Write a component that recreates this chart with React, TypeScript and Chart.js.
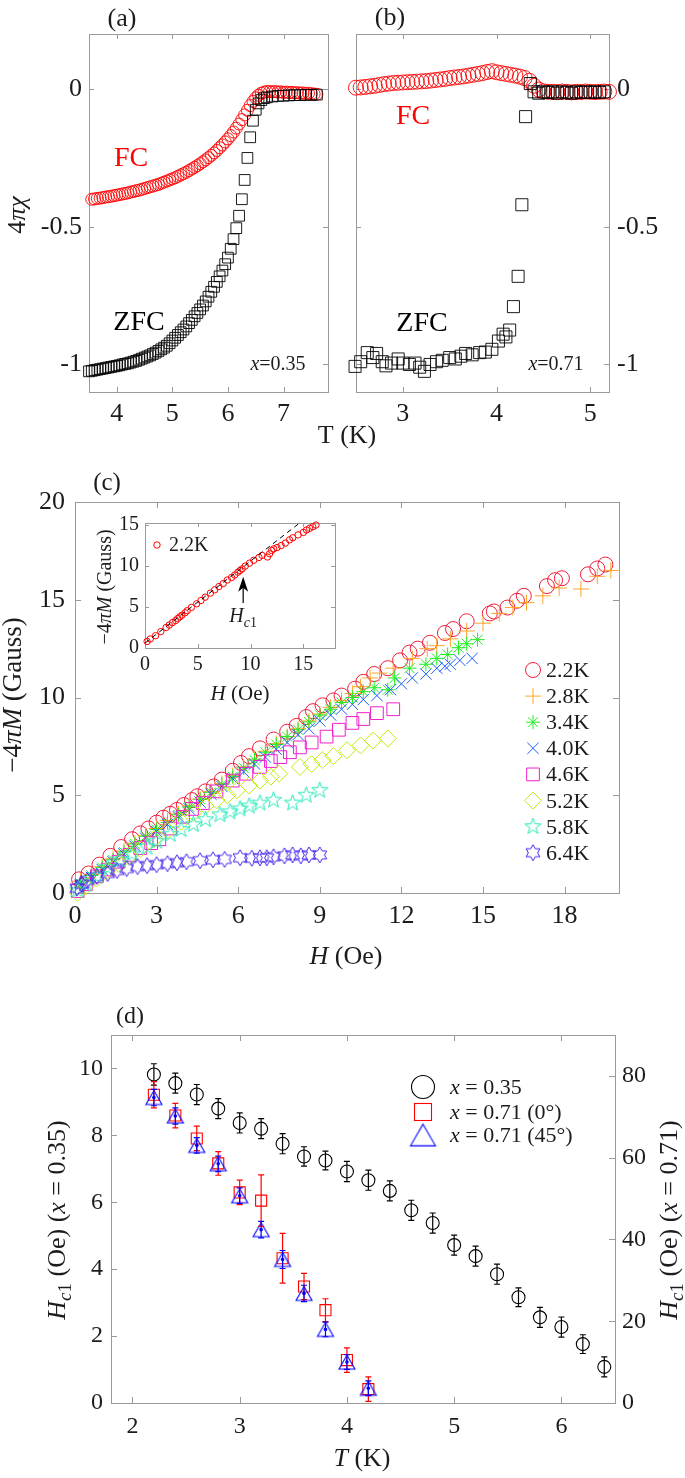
import React, { useEffect, useRef } from 'react';
import { Chart, registerables } from 'chart.js';
import { drawPoint } from 'chart.js/helpers';

Chart.register(...registerables);

const PAGE_W = 685;
const PAGE_H = 1478;
const FONT = '"Liberation Serif", "DejaVu Serif", serif';
const TXT = '#1c1c1c';
const FRAME = '#9a9a9a';
Chart.defaults.font.family = FONT;

// ---------------- (a) x = 0.35 ----------------
const A_FC_T = [3.55,3.60,3.65,3.70,3.75,3.80,3.85,3.90,3.95,4.00,
  4.05,4.10,4.15,4.20,4.25,4.30,4.35,4.40,4.45,4.50,
  4.55,4.60,4.65,4.70,4.75,4.80,4.85,4.90,4.95,5.00,
  5.05,5.10,5.15,5.20,5.25,5.30,5.35,5.40,5.45,5.50,
  5.55,5.60,5.65,5.70,5.75,5.80,5.85,5.90,5.95,6.00,
  6.05,6.10,6.15,6.20,6.25,6.30,6.35,6.40,6.45,6.50,
  6.55,6.60,6.65,6.70,6.75,6.80,6.85,6.90,6.95,7.00,
  7.05,7.10,7.15,7.20,7.25,7.30,7.35,7.40,7.45,7.50,
  7.55,7.60];
const A_FC_CHI = [-0.400,-0.399,-0.397,-0.396,-0.394,-0.392,-0.391,-0.389,-0.387,-0.385,
  -0.383,-0.381,-0.379,-0.377,-0.374,-0.372,-0.369,-0.367,-0.364,-0.361,
  -0.358,-0.355,-0.352,-0.349,-0.346,-0.342,-0.338,-0.334,-0.330,-0.326,
  -0.322,-0.317,-0.312,-0.307,-0.302,-0.296,-0.290,-0.284,-0.278,-0.271,
  -0.264,-0.257,-0.249,-0.241,-0.232,-0.223,-0.213,-0.203,-0.192,-0.181,
  -0.169,-0.156,-0.142,-0.127,-0.111,-0.094,-0.077,-0.060,-0.045,-0.032,
  -0.022,-0.015,-0.011,-0.009,-0.009,-0.010,-0.009,-0.011,-0.010,-0.012,
  -0.011,-0.013,-0.012,-0.014,-0.013,-0.015,-0.014,-0.016,-0.015,-0.017,
  -0.018,-0.019];
const A_ZFC_T = [3.50,3.55,3.60,3.65,3.70,3.75,3.80,3.85,3.90,3.95,
  4.00,4.05,4.10,4.15,4.20,4.25,4.30,4.35,4.40,4.45,
  4.50,4.55,4.60,4.65,4.70,4.75,4.80,4.85,4.90,4.95,
  5.00,5.05,5.10,5.15,5.20,5.25,5.30,5.35,5.40,5.45,
  5.50,5.55,5.60,5.65,5.70,5.75,5.80,5.85,5.90,5.95,
  6.00,6.05,6.10,6.15,6.20,6.25,6.30,6.35,6.40,6.45,
  6.50,6.55,6.60,6.65,6.70,
  6.80,6.90,7.00,7.10,7.20,7.30,7.40,7.50,7.60];
const A_ZFC_CHI = [-1.025,-1.023,-1.021,-1.019,-1.017,-1.015,-1.013,-1.011,-1.009,-1.007,
  -1.005,-1.003,-1.000,-0.998,-0.996,-0.993,-0.990,-0.987,-0.983,-0.979,
  -0.975,-0.971,-0.967,-0.962,-0.957,-0.951,-0.945,-0.939,-0.932,-0.923,
  -0.913,-0.903,-0.893,-0.883,-0.873,-0.862,-0.850,-0.838,-0.825,-0.813,
  -0.800,-0.786,-0.771,-0.754,-0.736,-0.718,-0.700,-0.680,-0.659,-0.636,
  -0.612,-0.580,-0.545,-0.505,-0.460,-0.400,-0.330,-0.250,-0.175,-0.115,
  -0.075,-0.052,-0.040,-0.033,-0.030,
  -0.027,-0.025,-0.024,-0.023,-0.022,-0.022,-0.021,-0.021,-0.020];
const A_X_TICKS = [4, 5, 6, 7];
const A_X_LABELS = ['4', '5', '6', '7'];
const AB_Y_TICKS = [-1, -0.5, 0];
const AB_Y_LABELS = ['-1', '-0.5', '0'];

// ---------------- (b) x = 0.71 ----------------
const B_FC_T = [2.50,2.55,2.60,2.65,2.70,2.75,2.80,2.85,2.90,2.95,
  3.00,3.05,3.10,3.15,3.20,3.25,3.30,3.35,3.40,3.45,
  3.50,3.55,3.60,3.65,3.70,3.75,3.80,3.85,3.90,3.95,
  4.00,4.05,4.10,4.15,4.20,4.25,4.30,4.35,4.40,4.45,
  4.50,4.55,4.60,4.65,4.70,4.75,4.80,4.85,4.90,4.95,
  5.00,5.05,5.10,5.15,5.20];
const B_FC_CHI = [0.005,0.006,0.008,0.010,0.012,0.015,0.018,0.020,0.022,0.023,
  0.024,0.025,0.026,0.027,0.028,0.029,0.031,0.033,0.035,0.037,
  0.040,0.042,0.044,0.046,0.049,0.052,0.055,0.058,0.062,0.065,
  0.061,0.058,0.055,0.052,0.049,0.045,0.040,0.030,0.012,-0.002,
  -0.008,-0.010,-0.010,-0.011,-0.009,-0.010,-0.012,-0.010,-0.011,-0.009,
  -0.010,-0.011,-0.010,-0.009,-0.010];
const B_ZFC = [[2.49,-1.007],[2.55,-0.99],[2.62,-0.957],[2.68,-0.975],[2.72,-0.96],[2.78,-0.99],
  [2.82,-1.005],[2.88,-0.995],[2.95,-0.98],[3.0,-0.995],[3.07,-1.0],[3.13,-0.995],[3.18,-1.01],
  [3.23,-1.025],[3.29,-1.0],[3.36,-0.99],[3.42,-0.985],[3.5,-0.975],[3.56,-0.98],[3.62,-0.97],
  [3.67,-0.96],[3.74,-0.965],[3.82,-0.957],[3.88,-0.955],[3.95,-0.945],[4.02,-0.915],[4.07,-0.89],
  [4.1,-0.9],[4.14,-0.875],[4.18,-0.79],[4.23,-0.68],[4.27,-0.42],[4.31,-0.1],[4.36,0.02],
  [4.4,-0.01],[4.45,-0.015],[4.5,-0.01],[4.55,-0.012],[4.6,-0.01],[4.65,-0.015],[4.7,-0.01],
  [4.75,-0.012],[4.8,-0.015],[4.85,-0.01],[4.9,-0.012],[4.95,-0.01],[5.0,-0.012],[5.05,-0.01],
  [5.1,-0.012],[5.15,-0.01]];
const B_X_TICKS = [3, 4, 5];
const B_X_LABELS = ['3', '4', '5'];

// ---------------- (c) -4piM vs H ----------------
const C_LABELS = ['2.2K', '2.8K', '3.4K', '4.0K', '4.6K', '5.2K', '5.8K', '6.4K'];
const C_22K = [[0.15,0.7],[0.5,1.0],[0.9,1.45],[1.3,1.9],[1.7,2.35],[2.1,2.75],[2.4,3.05],[2.7,3.3],
  [3.0,3.6],[3.25,3.85],[3.5,4.05],[3.75,4.25],[4.0,4.5],[4.3,4.75],[4.5,4.95],[4.8,5.2],[5.1,5.45],
  [5.4,5.8],[5.8,6.25],[6.1,6.65],[6.4,7.0],[6.8,7.4],[7.3,7.85],[7.8,8.25],[8.15,8.55],[8.5,9.0],
  [8.75,9.3],[9.1,9.6],[9.5,9.85],[9.8,10.1],[10.3,10.45],[10.6,10.8],[11.0,11.2],[11.5,11.5],
  [11.95,11.9],[12.3,12.3],[12.6,12.5],[13.05,12.8],[13.6,13.3],[13.9,13.5],[14.4,13.9],[15.25,14.3],
  [15.4,14.4],[15.9,14.6],[16.25,14.95],[16.5,15.2],[17.35,15.7],[17.65,16.0],[17.9,16.1],[18.86,16.3],
  [19.2,16.6],[19.5,16.8]];
const C_28K = [[0.2,0.6],[0.6,0.95],[1.0,1.35],[1.4,1.75],[1.8,2.15],[2.2,2.55],[2.6,2.95],[3.0,3.3],
  [3.4,3.7],[3.8,4.05],[4.2,4.45],[4.6,4.8],[5.0,5.2],[5.4,5.6],[5.8,6.0],[6.2,6.45],[6.6,6.85],
  [7.0,7.25],[7.4,7.65],[7.8,8.0],[8.2,8.4],[8.6,8.8],[9.0,9.15],[9.4,9.5],[9.8,9.85],[10.2,10.2],
  [10.5,10.55],[10.85,11.0],[11.2,11.25],[11.7,11.5],[12.4,12.0],[12.95,12.5],[13.3,12.65],[13.8,13.0],
  [14.4,13.4],[15.0,13.8],[15.6,14.3],[16.1,14.6],[16.6,14.85],[17.2,15.2],[17.8,15.6],[18.6,15.55],
  [19.2,16.2],[19.7,16.5]];
const C_34K = [[0.2,0.5],[0.6,0.9],[1.0,1.3],[1.4,1.7],[1.8,2.1],[2.2,2.5],[2.6,2.9],[3.0,3.25],
  [3.4,3.6],[3.8,4.0],[4.2,4.4],[4.6,4.8],[5.0,5.15],[5.4,5.55],[5.8,5.95],[6.2,6.4],[6.6,6.8],
  [7.0,7.2],[7.4,7.6],[7.8,8.0],[8.2,8.35],[8.6,8.75],[9.0,9.1],[9.4,9.4],[9.8,9.75],[10.2,10.0],
  [10.6,10.3],[11.0,10.5],[11.5,10.4],[11.75,11.0],[12.3,11.5],[12.9,11.7],[13.3,12.0],[13.7,12.2],
  [14.1,12.55],[14.4,12.75],[14.8,12.96]];
const C_40K = [[0.2,0.4],[0.6,0.8],[1.0,1.2],[1.4,1.6],[1.8,2.0],[2.2,2.4],[2.6,2.8],[3.0,3.15],
  [3.4,3.5],[3.8,3.9],[4.2,4.3],[4.6,4.65],[5.0,5.05],[5.4,5.45],[5.8,5.85],[6.2,6.2],[6.6,6.6],
  [7.0,6.95],[7.4,7.35],[7.8,7.7],[8.2,8.1],[8.6,8.4],[9.0,8.8],[9.4,9.1],[9.8,9.4],[10.2,9.65],
  [10.6,9.9],[11.1,10.1],[11.6,10.4],[12.0,10.7],[12.4,11.0],[12.9,11.2],[13.3,11.5],[13.6,11.6],
  [13.8,11.7],[14.15,11.9],[14.6,12.0]];
const C_46K = [[0.1,0.1],[0.4,0.45],[0.8,0.85],[1.2,1.2],[1.6,1.6],[2.0,1.95],[2.4,2.3],[2.8,2.55],
  [3.1,2.75],[3.5,3.3],[3.97,3.9],[4.3,4.3],[4.7,4.6],[5.2,5.2],[5.8,5.75],[6.3,6.1],[6.8,6.45],
  [7.2,6.75],[7.55,6.95],[7.9,7.2],[8.27,7.45],[8.7,7.7],[9.25,8.0],[9.7,8.35],[10.2,8.7],[10.6,8.9],
  [11.1,9.2],[11.7,9.4]];
const C_52K = [[0.1,0.0],[0.4,0.35],[0.8,0.75],[1.2,1.15],[1.6,1.5],[2.0,1.9],[2.4,2.25],[2.9,2.75],
  [3.4,3.2],[3.9,3.65],[4.35,4.1],[4.8,4.45],[5.2,4.75],[5.6,5.0],[5.95,5.25],[6.4,5.5],[6.8,5.75],
  [7.2,5.95],[7.5,6.1],[8.27,6.45],[8.7,6.6],[9.1,6.8],[9.5,7.0],[10.0,7.3],[10.5,7.55],[10.96,7.8],
  [11.5,7.9]];
const C_58K = [[0.1,0.15],[0.4,0.45],[0.8,0.85],[1.2,1.3],[1.65,1.7],[2.1,2.0],[2.65,2.35],[3.0,2.65],
  [3.5,3.0],[3.9,3.25],[4.35,3.5],[4.8,3.75],[5.33,4.0],[5.7,4.15],[6.07,4.3],[6.4,4.45],[6.8,4.6],
  [7.3,4.75],[8.0,4.6],[8.5,5.0],[9.0,5.25]];
const C_64K = [[0.07,0.25],[0.25,0.45],[0.45,0.65],[0.8,0.85],[1.2,1.0],[1.55,1.15],[1.9,1.25],
  [2.3,1.35],[2.65,1.4],[3.0,1.45],[3.4,1.5],[3.75,1.55],[4.1,1.6],[4.6,1.65],[5.07,1.7],[5.5,1.72],
  [6.07,1.8],[6.5,1.78],[6.8,1.8],[7.05,1.8],[7.3,1.85],[7.7,1.9],[8.0,1.95],[8.3,1.9],[8.6,1.95],
  [9.0,1.95]];
const C_X_TICKS = [0, 3, 6, 9, 12, 15, 18];
const C_X_LABELS = ['0', '3', '6', '9', '12', '15', '18'];
const C_Y_TICKS = [0, 5, 10, 15, 20];
const C_Y_LABELS = ['0', '5', '10', '15', '20'];

// inset of (c)
const INSET_22K = [[0.2,0.8],[0.5,1.1],[1.0,1.5],[1.5,2.0],[2.0,2.5],[2.3,2.8],[2.6,3.1],[2.9,3.35],
  [3.1,3.6],[3.3,3.8],[3.5,4.0],[3.8,4.3],[4.0,4.55],[4.4,4.95],[4.9,5.4],[5.3,5.8],[5.7,6.2],
  [6.2,6.7],[6.6,7.1],[7.0,7.5],[7.4,7.85],[7.8,8.3],[8.2,8.6],[8.5,8.9],[8.8,9.25],[9.0,9.45],
  [9.2,9.65],[9.5,10.0],[9.9,10.35],[10.3,10.7],[10.8,11.05],[11.1,11.3],[11.6,11.1],[11.8,11.5],
  [12.0,11.9],[12.2,12.1],[12.5,12.25],[12.9,12.5],[13.3,12.8],[13.7,13.2],[14.0,13.45],[14.5,13.8],
  [15.0,14.1],[15.3,14.4],[15.6,14.6],[15.9,14.8],[16.2,15.0]];
const INSET_FIT = [[0, 0.6], [14.6, 15.2]];
const INSET_ARROW = { h: 9.3, from: 5.5, to: 8.7, label: 3.9 };
const INSET_X_TICKS = [0, 5, 10, 15];
const INSET_X_LABELS = ['0', '5', '10', '15'];
const INSET_Y_TICKS = [0, 5, 10, 15];
const INSET_Y_LABELS = ['0', '5', '10', '15'];

// ---------------- (d) Hc1 vs T ----------------
const D_T035 = [2.2,2.4,2.6,2.8,3.0,3.2,3.4,3.6,3.8,4.0,4.2,4.4,4.6,4.8,5.0,5.2,5.4,5.6,5.8,6.0,6.2,6.4];
const D_HC1_035 = [9.82,9.56,9.22,8.8,8.37,8.2,7.75,7.37,7.25,6.92,6.66,6.34,5.76,5.38,4.72,4.39,3.85,3.16,2.56,2.27,1.76,1.08];
const D_ERR_035 = [0.32,0.3,0.3,0.3,0.3,0.3,0.3,0.29,0.28,0.3,0.3,0.3,0.3,0.3,0.3,0.3,0.3,0.28,0.3,0.3,0.28,0.3];
const D_T071 = [2.2,2.4,2.6,2.8,3.0,3.2,3.4,3.6,3.8,4.0,4.2];
const D_HC1_071_0 = [75.4,70.3,64.7,58.6,51.5,49.5,35.4,28.5,22.7,10.5,3.4];
const D_ERR_071_0 = [3.2,3.0,3.0,2.9,3.0,6.3,6.1,3.2,2.8,3.0,3.0];
const D_HC1_071_45 = [74.7,70.2,63.0,58.5,50.7,42.4,35.1,26.8,18.0,10.0,3.6];
const D_ERR_071_45 = [2.0,2.0,1.9,1.9,1.9,2.0,2.2,2.0,1.8,1.8,1.8];
const D_X_TICKS = [2, 3, 4, 5, 6];
const D_X_LABELS = ['2', '3', '4', '5', '6'];
const D_Y_TICKS = [0, 2, 4, 6, 8, 10];
const D_Y_LABELS = ['0', '2', '4', '6', '8', '10'];
const D_Y2_TICKS = [0, 20, 40, 60, 80];
const D_Y2_LABELS = ['0', '20', '40', '60', '80'];

// ---------------- layout (pixel boxes of the axes) ----------------
const AREA_A = { l: 89, r: 328, t: 34, b: 392 };
const AREA_B = { l: 356, r: 609, t: 34, b: 392 };
const AREA_C = { l: 75, r: 619, t: 502, b: 893 };
const AREA_I = { l: 145, r: 335, t: 523, b: 648 };
const AREA_D = { l: 111, r: 615, t: 1035, b: 1403 };
const YW = 60;
const XH = 50;

function zipXY(xs: number[], ys: number[]) { return xs.map((x, i) => ({ x, y: ys[i] })); }
function pairsXY(p: number[][]) { return p.map(([x, y]) => ({ x, y })); }

type Seg = { t: string; i?: boolean; s?: boolean };
function rich(ctx: CanvasRenderingContext2D, segs: Seg[], x: number, y: number, size: number,
  color = TXT, align: 'left' | 'center' | 'right' = 'center', rot = 0) {
  ctx.save();
  ctx.translate(x, y);
  if (rot) ctx.rotate(rot);
  ctx.fillStyle = color;
  ctx.textBaseline = 'alphabetic';
  ctx.textAlign = 'left';
  const f = (g: Seg) => `${g.i ? 'italic ' : ''}${g.s ? Math.round(size * 0.72) : size}px ${FONT}`;
  const ws = segs.map((g) => { ctx.font = f(g); return ctx.measureText(g.t).width; });
  const total = ws.reduce((a, b) => a + b, 0);
  let cx = align === 'left' ? 0 : align === 'right' ? -total : -total / 2;
  const base = size * 0.32;
  segs.forEach((g, k) => {
    ctx.font = f(g);
    ctx.fillText(g.t, cx, base + (g.s ? size * 0.22 : 0));
    cx += ws[k];
  });
  ctx.restore();
}

function axis(pos: string, min: number, max: number, ticks: number[], labels: string[], size: number, pad: number) {
  const horiz = pos === 'bottom' || pos === 'top';
  return {
    type: 'linear', position: pos, min, max,
    afterBuildTicks: (s: any) => { s.ticks = ticks.map((v) => ({ value: v })); },
    afterFit: (s: any) => { if (horiz) s.height = XH; else s.width = YW; },
    grid: { display: false, drawTicks: false },
    border: { display: false },
    ticks: {
      autoSkip: false, maxRotation: 0, minRotation: 0, padding: pad, color: TXT,
      font: { family: FONT, size },
      callback: (_v: any, i: number) => labels[i],
    },
  };
}

function padFor(a: { l: number; r: number; t: number; b: number }, left: boolean, right: boolean) {
  return {
    left: a.l - (left ? YW : 0),
    right: PAGE_W - a.r - (right ? YW : 0),
    top: a.t,
    bottom: PAGE_H - a.b - XH,
  };
}

function baseOptions(padding: any, scales: any) {
  return {
    responsive: false,
    animation: false,
    events: [],
    layout: { padding },
    plugins: { legend: { display: false }, tooltip: { enabled: false } },
    scales,
  };
}

function framePlugin(o: { xTicks: number[]; yTicks: number[]; y2Ticks?: number[]; tick: number; mirrorY: boolean;
  extras?: (c: any, ctx: CanvasRenderingContext2D) => void }) {
  return {
    id: 'frame',
    beforeDatasetsDraw(chart: any) {
      const { ctx, chartArea: a } = chart;
      const xs = chart.scales.x;
      const ys = chart.scales.y;
      ctx.save();
      ctx.strokeStyle = FRAME;
      ctx.lineWidth = 1;
      ctx.strokeRect(Math.round(a.left) + 0.5, Math.round(a.top) + 0.5, Math.round(a.right - a.left), Math.round(a.bottom - a.top));
      ctx.beginPath();
      o.xTicks.forEach((v) => {
        const px = Math.round(xs.getPixelForValue(v)) + 0.5;
        ctx.moveTo(px, a.bottom); ctx.lineTo(px, a.bottom - o.tick);
        ctx.moveTo(px, a.top); ctx.lineTo(px, a.top + o.tick);
      });
      o.yTicks.forEach((v) => {
        const py = Math.round(ys.getPixelForValue(v)) + 0.5;
        ctx.moveTo(a.left, py); ctx.lineTo(a.left + o.tick, py);
        if (o.mirrorY) { ctx.moveTo(a.right, py); ctx.lineTo(a.right - o.tick, py); }
      });
      if (o.y2Ticks) {
        const y2 = chart.scales.y2;
        o.y2Ticks.forEach((v) => {
          const py = Math.round(y2.getPixelForValue(v)) + 0.5;
          ctx.moveTo(a.right, py); ctx.lineTo(a.right - o.tick, py);
        });
      }
      ctx.stroke();
      ctx.restore();
    },
    afterDraw(chart: any) { if (o.extras) o.extras(chart, chart.ctx); },
  };
}

function starMarker(color: string, n: number, rOut: number, rIn: number, lw = 1) {
  const s = Math.ceil(rOut * 2 + 4);
  const c = document.createElement('canvas');
  c.width = s; c.height = s;
  const g = c.getContext('2d')!;
  g.translate(s / 2, s / 2);
  g.beginPath();
  for (let i = 0; i < 2 * n; i++) {
    const r = i % 2 === 0 ? rOut : rIn;
    const ang = -Math.PI / 2 + (i * Math.PI) / n;
    const px = r * Math.cos(ang), py = r * Math.sin(ang);
    if (i === 0) g.moveTo(px, py); else g.lineTo(px, py);
  }
  g.closePath();
  g.strokeStyle = color; g.lineWidth = lw; g.stroke();
  return c;
}

function triMarker(color: string, side: number, lw = 1.1) {
  const h = (side * Math.sqrt(3)) / 2;
  const s = Math.ceil(side + 4);
  const c = document.createElement('canvas');
  c.width = s; c.height = s;
  const g = c.getContext('2d')!;
  g.translate(s / 2, s / 2);
  g.beginPath();
  g.moveTo(0, -h / 2); g.lineTo(side / 2, h / 2); g.lineTo(-side / 2, h / 2); g.closePath();
  g.strokeStyle = color; g.lineWidth = lw; g.stroke();
  return c;
}

function pts(data: any[], color: string, style: any, r: number, lw = 1, extra: any = {}) {
  return {
    data, showLine: false, clip: false,
    pointStyle: style, pointRadius: r, pointBorderColor: color, borderColor: color,
    pointBackgroundColor: 'rgba(0,0,0,0)', backgroundColor: 'rgba(0,0,0,0)', pointBorderWidth: lw,
    ...extra,
  };
}

function buildA(cv: HTMLCanvasElement) {
  return new Chart(cv, {
    type: 'scatter',
    data: { datasets: [
      pts(zipXY(A_ZFC_T, A_ZFC_CHI), '#000000', 'rect', 7.6, 0.9),
      pts(zipXY(A_FC_T, A_FC_CHI), '#ff0000', 'circle', 6, 0.9),
    ] },
    options: baseOptions(padFor(AREA_A, true, false), {
      x: axis('bottom', 3.5, 7.8, A_X_TICKS, A_X_LABELS, 26, 7),
      y: axis('left', -1.1, 0.2, AB_Y_TICKS, AB_Y_LABELS, 26, 7),
    }),
    plugins: [framePlugin({ xTicks: A_X_TICKS, yTicks: AB_Y_TICKS, tick: 5, mirrorY: true,
      extras: (_c, ctx) => {
        rich(ctx, [{ t: '(a)' }], 122, 18, 26);
        rich(ctx, [{ t: 'FC' }], 131, 157, 28, '#ff0000');
        rich(ctx, [{ t: 'ZFC' }], 139, 321, 28, '#000000');
        rich(ctx, [{ t: 'x', i: true }, { t: '=0.35' }], 278, 364, 20);
        rich(ctx, [{ t: '4' }, { t: 'πχ', i: true }], 17, 215, 26, TXT, 'center', -Math.PI / 2);
        rich(ctx, [{ t: 'T (K)' }], 347, 435, 26);
      } })],
  } as any);
}

function buildB(cv: HTMLCanvasElement) {
  return new Chart(cv, {
    type: 'scatter',
    data: { datasets: [
      pts(pairsXY(B_ZFC), '#000000', 'rect', 8.5, 0.9),
      pts(zipXY(B_FC_T, B_FC_CHI), '#ff0000', 'circle', 7.5, 0.9),
    ] },
    options: baseOptions(padFor(AREA_B, false, true), {
      x: axis('bottom', 2.5, 5.2, B_X_TICKS, B_X_LABELS, 26, 7),
      y: axis('right', -1.1, 0.2, AB_Y_TICKS, AB_Y_LABELS, 26, 8),
    }),
    plugins: [framePlugin({ xTicks: B_X_TICKS, yTicks: AB_Y_TICKS, tick: 5, mirrorY: true,
      extras: (_c, ctx) => {
        rich(ctx, [{ t: '(b)' }], 390, 17, 26);
        rich(ctx, [{ t: 'FC' }], 413, 115, 28, '#ff0000');
        rich(ctx, [{ t: 'ZFC' }], 422, 322, 28, '#000000');
        rich(ctx, [{ t: 'x', i: true }, { t: '=0.71' }], 556, 364, 20);
      } })],
  } as any);
}

function buildC(cv: HTMLCanvasElement) {
  const penta = starMarker('#1ee8b8', 5, 8.5, 3.4, 1);
  const hexa = starMarker('#4422ee', 6, 8, 4.6, 1);
  const series = [
    { d: C_22K, c: '#ee1c3a', s: 'circle', r: 7.5 },
    { d: C_28K, c: '#ffa526', s: 'cross', r: 8 },
    { d: C_34K, c: '#22ee22', s: 'star', r: 7 },
    { d: C_40K, c: '#1a5cff', s: 'crossRot', r: 8 },
    { d: C_46K, c: '#ee22cc', s: 'rect', r: 9 },
    { d: C_52K, c: '#bbee11', s: 'rectRot', r: 8.5 },
    { d: C_58K, c: '#1ee8b8', s: penta, r: 8 },
    { d: C_64K, c: '#4422ee', s: hexa, r: 8 },
  ];
  return new Chart(cv, {
    type: 'scatter',
    data: { datasets: series.map((q, k) => pts(pairsXY(q.d), q.c, q.s, q.r, 1, { order: -k })) },
    options: baseOptions(padFor(AREA_C, true, false), {
      x: axis('bottom', 0, 20, C_X_TICKS, C_X_LABELS, 26, 8),
      y: axis('left', 0, 20, C_Y_TICKS, C_Y_LABELS, 26, 10),
    }),
    plugins: [framePlugin({ xTicks: C_X_TICKS, yTicks: C_Y_TICKS, tick: 6, mirrorY: true,
      extras: (_c, ctx) => {
        rich(ctx, [{ t: '(c)' }], 107, 482, 25);
        rich(ctx, [{ t: '−4' }, { t: 'πM', i: true }, { t: ' (Gauss)' }], 12, 695, 27, TXT, 'center', -Math.PI / 2);
        rich(ctx, [{ t: 'H', i: true }, { t: ' (Oe)' }], 346, 956, 26);
        // legend
        series.forEach((q, k) => {
          const y = 670 + k * 26.1;
          ctx.save();
          ctx.strokeStyle = q.c; ctx.fillStyle = 'rgba(0,0,0,0)'; ctx.lineWidth = 1;
          drawPoint(ctx, { pointStyle: q.s, radius: q.r, rotation: 0, borderWidth: 1 } as any, 533, y);
          ctx.restore();
          rich(ctx, [{ t: C_LABELS[k] }], 546, y, 22, TXT, 'left');
        });
      } })],
  } as any);
}

function buildInset(cv: HTMLCanvasElement) {
  return new Chart(cv, {
    type: 'scatter',
    data: { datasets: [
      { data: pairsXY(INSET_FIT), showLine: true, borderColor: '#000', borderWidth: 1, borderDash: [5, 4], pointRadius: 0, clip: false },
      pts(pairsXY(INSET_22K), '#ff0000', 'circle', 3.2, 1),
    ] },
    options: baseOptions(padFor(AREA_I, true, false), {
      x: axis('bottom', 0, 18, INSET_X_TICKS, INSET_X_LABELS, 20, 5),
      y: axis('left', 0, 15.25, INSET_Y_TICKS, INSET_Y_LABELS, 20, 6),
    }),
    plugins: [framePlugin({ xTicks: INSET_X_TICKS, yTicks: INSET_Y_TICKS, tick: 4, mirrorY: true,
      extras: (c, ctx) => {
        const a = c.chartArea;
        const xs = c.scales.x, ys = c.scales.y;
        ctx.save();
        ctx.strokeStyle = '#ff0000'; ctx.lineWidth = 1;
        ctx.beginPath(); ctx.arc(a.left + 12, a.top + 22, 3.2, 0, Math.PI * 2); ctx.stroke();
        ctx.restore();
        rich(ctx, [{ t: '2.2K' }], a.left + 24, a.top + 22, 20, TXT, 'left');
        rich(ctx, [{ t: '−4' }, { t: 'πM', i: true }, { t: ' (Gauss)' }], 105, 587, 20, TXT, 'center', -Math.PI / 2);
        rich(ctx, [{ t: 'H', i: true }, { t: ' (Oe)' }], 240, 693, 21);
        // arrow marking Hc1
        const px = xs.getPixelForValue(INSET_ARROW.h);
        const y0 = ys.getPixelForValue(INSET_ARROW.from);
        const y1 = ys.getPixelForValue(INSET_ARROW.to);
        ctx.save();
        ctx.strokeStyle = '#000'; ctx.fillStyle = '#000'; ctx.lineWidth = 1.2;
        ctx.beginPath(); ctx.moveTo(px, y0); ctx.lineTo(px, y1 + 8); ctx.stroke();
        ctx.beginPath(); ctx.moveTo(px, y1); ctx.lineTo(px - 5, y1 + 15); ctx.lineTo(px, y1 + 11); ctx.lineTo(px + 5, y1 + 15);
        ctx.closePath(); ctx.fill();
        ctx.restore();
        rich(ctx, [{ t: 'H', i: true }, { t: 'c', i: true, s: true }, { t: '1', s: true }], px, ys.getPixelForValue(INSET_ARROW.label), 20);
      } })],
  } as any);
}

function buildD(cv: HTMLCanvasElement) {
  const triPlot = triMarker('#0000ff', 16, 1.1);
  const triLeg = triMarker('#0000ff', 25, 1.1);
  return new Chart(cv, {
    type: 'scatter',
    data: { datasets: [
      pts(zipXY(D_T071, D_HC1_071_45), '#0000ff', triPlot, 8, 1.1, { yAxisID: 'y2' }),
      pts(zipXY(D_T071, D_HC1_071_0), '#ff0000', 'rect', 7.8, 1.1, { yAxisID: 'y2' }),
      pts(zipXY(D_T035, D_HC1_035), '#000000', 'circle', 6.5, 1.1, { yAxisID: 'y' }),
    ] },
    options: baseOptions(padFor(AREA_D, true, true), {
      x: axis('bottom', 1.8, 6.5, D_X_TICKS, D_X_LABELS, 24, 9),
      y: axis('left', 0, 11, D_Y_TICKS, D_Y_LABELS, 24, 8),
      y2: axis('right', 0, 90, D_Y2_TICKS, D_Y2_LABELS, 24, 7),
    }),
    plugins: [framePlugin({ xTicks: D_X_TICKS, yTicks: D_Y_TICKS, y2Ticks: D_Y2_TICKS, tick: 6, mirrorY: false,
      extras: (c, ctx) => {
        const xs = c.scales.x, ys = c.scales.y, y2 = c.scales.y2;
        const bars = (T: number[], V: number[], E: number[], sc: any, color: string, dot: boolean) => {
          ctx.save();
          ctx.strokeStyle = color; ctx.fillStyle = color; ctx.lineWidth = 1.2;
          T.forEach((t, i) => {
            const px = xs.getPixelForValue(t);
            const lo = sc.getPixelForValue(V[i] - E[i]);
            const hi = sc.getPixelForValue(V[i] + E[i]);
            ctx.beginPath();
            ctx.moveTo(px, lo); ctx.lineTo(px, hi);
            ctx.moveTo(px - 3, lo); ctx.lineTo(px + 3, lo);
            ctx.moveTo(px - 3, hi); ctx.lineTo(px + 3, hi);
            ctx.stroke();
            if (dot) { ctx.beginPath(); ctx.arc(px, sc.getPixelForValue(V[i]), 1.8, 0, Math.PI * 2); ctx.fill(); }
          });
          ctx.restore();
        };
        bars(D_T035, D_HC1_035, D_ERR_035, ys, '#000000', false);
        bars(D_T071, D_HC1_071_0, D_ERR_071_0, y2, '#ff0000', false);
        bars(D_T071, D_HC1_071_45, D_ERR_071_45, y2, '#0000ff', true);

        rich(ctx, [{ t: '(d)' }], 130, 1015, 24);
        rich(ctx, [{ t: 'H', i: true }, { t: 'c', i: true, s: true }, { t: '1', s: true }, { t: ' (Oe) (' }, { t: 'x', i: true }, { t: ' = 0.35)' }],
          57, 1220, 26, TXT, 'center', -Math.PI / 2);
        rich(ctx, [{ t: 'H', i: true }, { t: 'c', i: true, s: true }, { t: '1', s: true }, { t: ' (Oe) (' }, { t: 'x', i: true }, { t: ' = 0.71)' }],
          669, 1220, 26, TXT, 'center', -Math.PI / 2);
        rich(ctx, [{ t: 'T', i: true }, { t: ' (K)' }], 362, 1458, 26);
        // legend
        ctx.save();
        ctx.lineWidth = 1.1;
        ctx.strokeStyle = '#000'; ctx.beginPath(); ctx.arc(423, 1087, 11.5, 0, Math.PI * 2); ctx.stroke();
        ctx.strokeStyle = '#ff0000'; ctx.strokeRect(414.5, 1103.5, 17, 17);
        ctx.drawImage(triLeg, 423 - triLeg.width / 2, 1135 - triLeg.height / 2);
        ctx.restore();
        rich(ctx, [{ t: 'x', i: true }, { t: ' = 0.35' }], 450, 1087, 22, TXT, 'left');
        rich(ctx, [{ t: 'x', i: true }, { t: ' = 0.71 (0°)' }], 450, 1112, 22, TXT, 'left');
        rich(ctx, [{ t: 'x', i: true }, { t: ' = 0.71 (45°)' }], 450, 1135, 22, TXT, 'left');
      } })],
  } as any);
}

export default function App() {
  const rA = useRef<HTMLCanvasElement>(null);
  const rB = useRef<HTMLCanvasElement>(null);
  const rC = useRef<HTMLCanvasElement>(null);
  const rI = useRef<HTMLCanvasElement>(null);
  const rD = useRef<HTMLCanvasElement>(null);
  useEffect(() => {
    document.body.style.margin = '0';
    const charts = [
      buildA(rA.current!), buildB(rB.current!), buildC(rC.current!), buildInset(rI.current!), buildD(rD.current!),
    ];
    return () => charts.forEach((c) => c.destroy());
  }, []);
  const st: any = { position: 'absolute', left: 0, top: 0, width: PAGE_W + 'px', height: PAGE_H + 'px' };
  return (
    <div style={{ position: 'absolute', left: 0, top: 0, width: PAGE_W, height: PAGE_H, background: '#ffffff' }}>
      <canvas ref={rA} width={PAGE_W} height={PAGE_H} style={st} />
      <canvas ref={rB} width={PAGE_W} height={PAGE_H} style={st} />
      <canvas ref={rC} width={PAGE_W} height={PAGE_H} style={st} />
      <canvas ref={rI} width={PAGE_W} height={PAGE_H} style={st} />
      <canvas ref={rD} width={PAGE_W} height={PAGE_H} style={st} />
    </div>
  );
}
